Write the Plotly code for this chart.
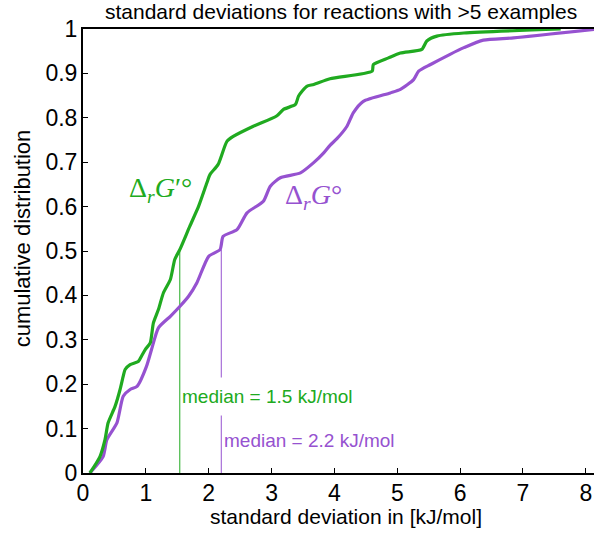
import plotly.graph_objects as go

# ---- data ----
green_x = [0.11, 0.27, 0.35, 0.40, 0.51, 0.59, 0.64, 0.67, 0.75, 0.88, 0.93, 0.99, 1.07, 1.12, 1.20,
           1.28, 1.39, 1.46, 1.54, 1.70, 1.84, 1.97, 2.02, 2.15, 2.29, 2.39, 2.71, 3.08, 3.19, 3.38,
           3.43, 3.56, 3.67, 3.93, 4.60, 4.62, 4.86, 5.05, 5.39, 5.47, 5.63, 6.06, 7.60]
green_y = [0.0, 0.037, 0.075, 0.113, 0.150, 0.188, 0.218, 0.233, 0.244, 0.251, 0.263, 0.278, 0.293, 0.338, 0.368,
           0.406, 0.436, 0.481, 0.503, 0.556, 0.601, 0.653, 0.672, 0.695, 0.747, 0.758, 0.781, 0.804, 0.819, 0.830,
           0.849, 0.871, 0.875, 0.888, 0.905, 0.920, 0.935, 0.946, 0.954, 0.973, 0.984, 0.991, 1.0]

purple_x = [0.11, 0.32, 0.38, 0.54, 0.64, 0.75, 0.86, 1.01, 1.09, 1.20, 1.39, 1.54, 1.68, 1.81, 2.00,
            2.18, 2.23, 2.45, 2.61, 2.87, 2.98, 3.14, 3.46, 3.67, 3.83, 3.93, 4.04, 4.20, 4.30, 4.46,
            4.89, 5.05, 5.26, 5.34, 5.53, 5.84, 6.06, 6.37, 6.85, 8.13]
purple_y = [0.0, 0.037, 0.075, 0.113, 0.173, 0.188, 0.195, 0.240, 0.278, 0.327, 0.353, 0.375, 0.398, 0.428, 0.488,
            0.503, 0.533, 0.548, 0.586, 0.612, 0.646, 0.665, 0.676, 0.699, 0.721, 0.738, 0.753, 0.781, 0.811, 0.837,
            0.856, 0.864, 0.886, 0.905, 0.920, 0.943, 0.958, 0.975, 0.980, 0.999]

median_green = 1.54
median_purple = 2.2
median_level = 0.503

x_ticks = [0, 1, 2, 3, 4, 5, 6, 7, 8]
y_ticks = [0, 0.1, 0.2, 0.3, 0.4, 0.5, 0.6, 0.7, 0.8, 0.9, 1]
y_ticklabels = ["0", "0.1", "0.2", "0.3", "0.4", "0.5", "0.6", "0.7", "0.8", "0.9", "1"]

GREEN = "rgb(32,170,32)"
PURPLE = "rgb(150,82,208)"
FONT = "Liberation Sans, Arial, sans-serif"
SERIF = "Liberation Serif, Times New Roman, serif"

fig = go.Figure()
fig.add_trace(go.Scatter(x=[median_green, median_green], y=[0, median_level], mode="lines",
                         line=dict(color=GREEN, width=1), hoverinfo="skip"))
fig.add_trace(go.Scatter(x=[median_purple, median_purple], y=[0, median_level], mode="lines",
                         line=dict(color=PURPLE, width=1), hoverinfo="skip"))
fig.add_trace(go.Scatter(x=purple_x, y=purple_y, mode="lines",
                         line=dict(color=PURPLE, width=3.2, shape="spline", smoothing=0.6)))
fig.add_trace(go.Scatter(x=green_x, y=green_y, mode="lines",
                         line=dict(color=GREEN, width=3.2, shape="spline", smoothing=0.6)))

fig.add_annotation(x=median_green, y=0.173, xref="x", yref="y", xanchor="left", yanchor="middle",
                   xshift=1.5, text="median = 1.5 kJ/mol", showarrow=False, bgcolor="white",
                   height=37, width=178, align="left", borderpad=0,
                   font=dict(family=FONT, size=19, color=GREEN))
fig.add_annotation(x=median_purple, y=0.073, xref="x", yref="y", xanchor="left", yanchor="middle",
                   xshift=1, text="median = 2.2 kJ/mol", showarrow=False,
                   font=dict(family=FONT, size=19, color=PURPLE))

fig.add_annotation(x=1.225, y=0.638, xref="x", yref="y", xanchor="center", yanchor="middle",
                   showarrow=False, text="Δ<sub><i>r</i></sub><i>G</i>′°",
                   font=dict(family=SERIF, size=28, color=GREEN))
fig.add_annotation(x=3.66, y=0.623, xref="x", yref="y", xanchor="center", yanchor="middle",
                   showarrow=False, text="Δ<sub><i>r</i></sub><i>G</i>°",
                   font=dict(family=SERIF, size=28, color=PURPLE))

fig.add_annotation(x=0.504, y=1.04, xref="paper", yref="paper", xanchor="center", yanchor="middle",
                   showarrow=False, text="standard deviations for reactions with >5 examples",
                   font=dict(family=FONT, size=21, color="black"))
fig.add_annotation(x=0.515, y=-0.099, xref="paper", yref="paper", xanchor="center", yanchor="middle",
                   showarrow=False, text="standard deviation in [kJ/mol]",
                   font=dict(family=FONT, size=21, color="black"))
fig.add_annotation(x=-0.119, y=0.529, xref="paper", yref="paper", xanchor="center", yanchor="middle",
                   showarrow=False, text="cumulative distribution", textangle=-90,
                   font=dict(family=FONT, size=22, color="black"))

fig.update_layout(
    width=594, height=535,
    margin=dict(l=83, r=0, t=29, b=62, autoexpand=False),
    paper_bgcolor="white", plot_bgcolor="white",
    showlegend=False,
    xaxis=dict(range=[0, 8.13], tickvals=x_ticks, ticks="inside", ticklen=5, tickwidth=1,
               tickcolor="black", showline=True, linecolor="black", linewidth=2, mirror=True,
               showgrid=False, zeroline=False, ticklabelstandoff=-2, automargin=False,
               tickfont=dict(family=FONT, size=23, color="black")),
    yaxis=dict(range=[0, 1], tickvals=y_ticks, ticktext=y_ticklabels, ticks="inside", ticklen=5,
               tickwidth=1, tickcolor="black", showline=True, linecolor="black", linewidth=2,
               showgrid=False, zeroline=False, ticklabelstandoff=-1, automargin=False,
               tickfont=dict(family=FONT, size=23, color="black")),
)

fig.write_html("out.html", config={"displayModeBar": False},
               post_script="document.body.style.margin='0';")
